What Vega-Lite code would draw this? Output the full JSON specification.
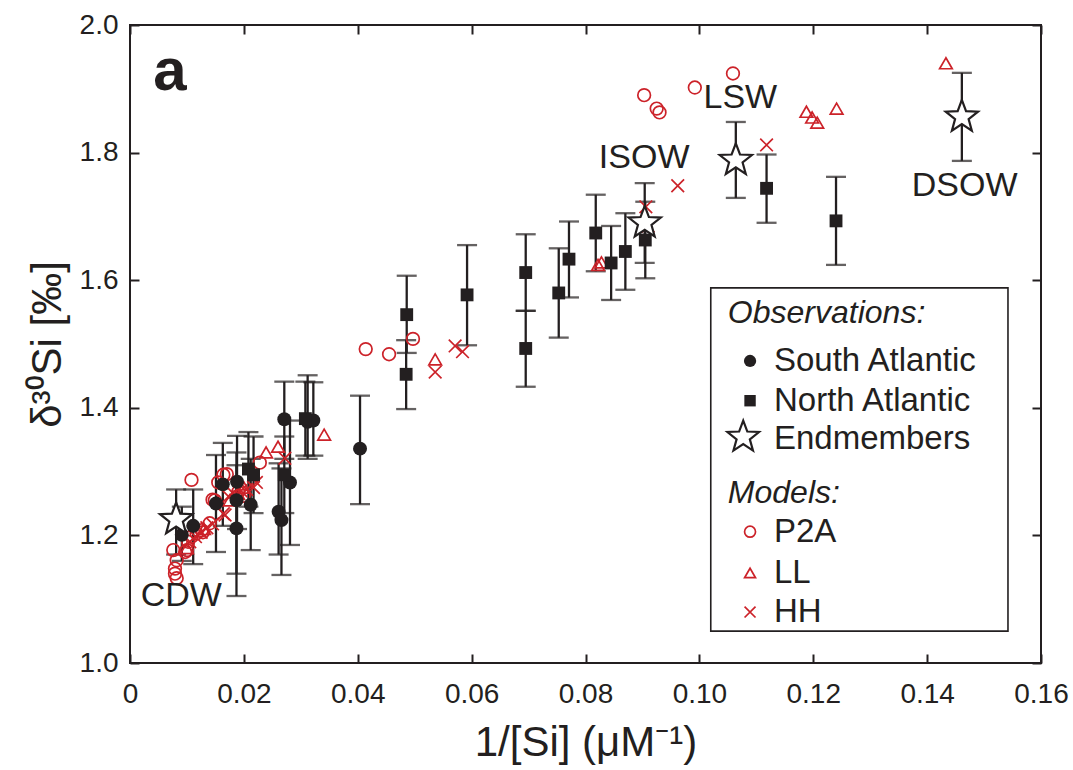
{
  "$schema": "https://vega.github.io/schema/vega-lite/v6.json",
  "width": 911,
  "height": 638,
  "autosize": {"type": "none"},
  "padding": {"left": 130, "top": 25, "right": 32, "bottom": 107},
  "background": "white",
  "config": {
    "view": {"stroke": "#231f20", "strokeWidth": 2},
    "font": "Liberation Sans",
    "axis": {
      "domain": false, "grid": false, "ticks": true,
      "tickColor": "#231f20", "tickWidth": 2, "tickSize": -9,
      "labelFont": "Liberation Sans", "labelFontSize": 28, "labelColor": "#231f20",
      "labelFlush": false, "labelOverlap": false, "labelBound": false,
      "titleFont": "Liberation Sans", "titleFontWeight": "normal", "titleColor": "#231f20", "titleFontSize": 42
    }
  },
  "datasets": {
    "obs": [
      {"g": "SA", "x": 0.0091, "y": 1.201, "lo": 1.16, "hi": 1.245},
      {"g": "SA", "x": 0.0111, "y": 1.215, "lo": 1.155, "hi": 1.272},
      {"g": "SA", "x": 0.0151, "y": 1.250, "lo": 1.174, "hi": 1.326},
      {"g": "SA", "x": 0.0163, "y": 1.280, "lo": 1.215, "hi": 1.345},
      {"g": "SA", "x": 0.0188, "y": 1.284, "lo": 1.21, "hi": 1.356},
      {"g": "SA", "x": 0.0187, "y": 1.255, "lo": 1.14, "hi": 1.33},
      {"g": "SA", "x": 0.0187, "y": 1.211, "lo": 1.105, "hi": 1.31},
      {"g": "SA", "x": 0.0212, "y": 1.248, "lo": 1.177, "hi": 1.32},
      {"g": "SA", "x": 0.0261, "y": 1.237, "lo": 1.17, "hi": 1.313},
      {"g": "SA", "x": 0.0266, "y": 1.224, "lo": 1.138, "hi": 1.305},
      {"g": "SA", "x": 0.0271, "y": 1.382, "lo": 1.32, "hi": 1.441},
      {"g": "SA", "x": 0.0281, "y": 1.283, "lo": 1.185, "hi": 1.38},
      {"g": "SA", "x": 0.0312, "y": 1.378, "lo": 1.32, "hi": 1.451},
      {"g": "SA", "x": 0.0322, "y": 1.380, "lo": 1.325, "hi": 1.44},
      {"g": "SA", "x": 0.0404, "y": 1.336, "lo": 1.249, "hi": 1.419},
      {"g": "NA", "x": 0.0208, "y": 1.304, "lo": 1.245, "hi": 1.362},
      {"g": "NA", "x": 0.0217, "y": 1.295, "lo": 1.235, "hi": 1.355},
      {"g": "NA", "x": 0.0271, "y": 1.295, "lo": 1.235, "hi": 1.355},
      {"g": "NA", "x": 0.0308, "y": 1.383, "lo": 1.325, "hi": 1.441},
      {"g": "NA", "x": 0.0486, "y": 1.546, "lo": 1.486, "hi": 1.607},
      {"g": "NA", "x": 0.0485, "y": 1.4525, "lo": 1.398, "hi": 1.506},
      {"g": "NA", "x": 0.0592, "y": 1.577, "lo": 1.498, "hi": 1.655},
      {"g": "NA", "x": 0.0695, "y": 1.612, "lo": 1.552, "hi": 1.672},
      {"g": "NA", "x": 0.0695, "y": 1.493, "lo": 1.433, "hi": 1.552},
      {"g": "NA", "x": 0.0753, "y": 1.580, "lo": 1.510, "hi": 1.650},
      {"g": "NA", "x": 0.0771, "y": 1.633, "lo": 1.573, "hi": 1.692},
      {"g": "NA", "x": 0.0818, "y": 1.674, "lo": 1.614, "hi": 1.734},
      {"g": "NA", "x": 0.0845, "y": 1.627, "lo": 1.569, "hi": 1.685},
      {"g": "NA", "x": 0.0870, "y": 1.645, "lo": 1.585, "hi": 1.705},
      {"g": "NA", "x": 0.0905, "y": 1.663, "lo": 1.603, "hi": 1.723},
      {"g": "NA", "x": 0.1118, "y": 1.744, "lo": 1.690, "hi": 1.797},
      {"g": "NA", "x": 0.1240, "y": 1.693, "lo": 1.624, "hi": 1.762},
      {"g": "EM", "x": 0.0081, "y": 1.225, "lo": 1.17, "hi": 1.272},
      {"g": "EM", "x": 0.0904, "y": 1.690, "lo": 1.627, "hi": 1.752},
      {"g": "EM", "x": 0.1064, "y": 1.788, "lo": 1.729, "hi": 1.848},
      {"g": "EM", "x": 0.1461, "y": 1.856, "lo": 1.787, "hi": 1.925}
    ],
    "mod": [
      {"g": "P2A", "x": 0.0903, "y": 1.890},
      {"g": "P2A", "x": 0.0925, "y": 1.869},
      {"g": "P2A", "x": 0.0930, "y": 1.863},
      {"g": "P2A", "x": 0.0992, "y": 1.902},
      {"g": "P2A", "x": 0.1059, "y": 1.924},
      {"g": "P2A", "x": 0.0414, "y": 1.492},
      {"g": "P2A", "x": 0.0455, "y": 1.484},
      {"g": "P2A", "x": 0.0497, "y": 1.508},
      {"g": "P2A", "x": 0.0108, "y": 1.287},
      {"g": "P2A", "x": 0.0155, "y": 1.283},
      {"g": "P2A", "x": 0.0145, "y": 1.256},
      {"g": "P2A", "x": 0.0164, "y": 1.295},
      {"g": "P2A", "x": 0.0170, "y": 1.296},
      {"g": "P2A", "x": 0.0228, "y": 1.314},
      {"g": "P2A", "x": 0.0140, "y": 1.219},
      {"g": "P2A", "x": 0.0126, "y": 1.208},
      {"g": "P2A", "x": 0.0076, "y": 1.177},
      {"g": "P2A", "x": 0.0082, "y": 1.161},
      {"g": "P2A", "x": 0.0079, "y": 1.148},
      {"g": "P2A", "x": 0.0079, "y": 1.140},
      {"g": "P2A", "x": 0.0082, "y": 1.133},
      {"g": "P2A", "x": 0.0097, "y": 1.174},
      {"g": "P2A", "x": 0.0102, "y": 1.190},
      {"g": "P2A", "x": 0.0108, "y": 1.198},
      {"g": "P2A", "x": 0.0117, "y": 1.203},
      {"g": "P2A", "x": 0.0100, "y": 1.177},
      {"g": "P2A", "x": 0.0128, "y": 1.205},
      {"g": "P2A", "x": 0.0149, "y": 1.255},
      {"g": "P2A", "x": 0.0190, "y": 1.268},
      {"g": "P2A", "x": 0.0200, "y": 1.262},
      {"g": "LL", "x": 0.1433, "y": 1.940},
      {"g": "LL", "x": 0.1241, "y": 1.869},
      {"g": "LL", "x": 0.1188, "y": 1.864},
      {"g": "LL", "x": 0.1198, "y": 1.855},
      {"g": "LL", "x": 0.1207, "y": 1.847},
      {"g": "LL", "x": 0.0822, "y": 1.624},
      {"g": "LL", "x": 0.0828, "y": 1.628},
      {"g": "LL", "x": 0.0536, "y": 1.476},
      {"g": "LL", "x": 0.0341, "y": 1.358},
      {"g": "LL", "x": 0.0260, "y": 1.339},
      {"g": "LL", "x": 0.0239, "y": 1.330},
      {"g": "LL", "x": 0.0200, "y": 1.275},
      {"g": "LL", "x": 0.0190, "y": 1.265},
      {"g": "LL", "x": 0.0175, "y": 1.255},
      {"g": "LL", "x": 0.0130, "y": 1.210},
      {"g": "LL", "x": 0.0100, "y": 1.180},
      {"g": "HH", "x": 0.1118, "y": 1.812},
      {"g": "HH", "x": 0.0962, "y": 1.748},
      {"g": "HH", "x": 0.0906, "y": 1.715},
      {"g": "HH", "x": 0.0910, "y": 1.685},
      {"g": "HH", "x": 0.0571, "y": 1.497},
      {"g": "HH", "x": 0.0584, "y": 1.488},
      {"g": "HH", "x": 0.0536, "y": 1.456},
      {"g": "HH", "x": 0.0272, "y": 1.321},
      {"g": "HH", "x": 0.0222, "y": 1.283},
      {"g": "HH", "x": 0.0217, "y": 1.275},
      {"g": "HH", "x": 0.0181, "y": 1.266},
      {"g": "HH", "x": 0.0173, "y": 1.261},
      {"g": "HH", "x": 0.0164, "y": 1.234},
      {"g": "HH", "x": 0.0167, "y": 1.232},
      {"g": "HH", "x": 0.0125, "y": 1.205},
      {"g": "HH", "x": 0.0135, "y": 1.212},
      {"g": "HH", "x": 0.0145, "y": 1.218},
      {"g": "HH", "x": 0.0105, "y": 1.190},
      {"g": "HH", "x": 0.0115, "y": 1.198},
      {"g": "HH", "x": 0.0195, "y": 1.270},
      {"g": "HH", "x": 0.0205, "y": 1.272}
    ],
    "ann": [
      {"t": "CDW", "x": 0.0090, "y": 1.105},
      {"t": "ISOW", "x": 0.0903, "y": 1.792},
      {"t": "LSW", "x": 0.1072, "y": 1.886},
      {"t": "DSOW", "x": 0.1466, "y": 1.748}
    ],
    "panel": [
      {"t": "a", "x": 0.0070, "y": 1.898}
    ],
    "box": [
      {"x": 0.1020, "x2": 0.1542, "y": 1.588, "y2": 1.050}
    ],
    "legtext": [
      {"t": "Observations:", "x": 0.1050, "y": 1.5486, "it": 1},
      {"t": "South Atlantic", "x": 0.1131, "y": 1.4734, "it": 0},
      {"t": "North Atlantic", "x": 0.1131, "y": 1.4111, "it": 0},
      {"t": "Endmembers", "x": 0.1131, "y": 1.3511, "it": 0},
      {"t": "Models:", "x": 0.1050, "y": 1.2665, "it": 1},
      {"t": "P2A", "x": 0.1131, "y": 1.2058, "it": 0},
      {"t": "LL", "x": 0.1131, "y": 1.1411, "it": 0},
      {"t": "HH", "x": 0.1131, "y": 1.0799, "it": 0}
    ],
    "legsym": [
      {"g": "SA", "x": 0.1089, "y": 1.4734},
      {"g": "NA", "x": 0.1089, "y": 1.4111},
      {"g": "EM", "x": 0.1077, "y": 1.3540},
      {"g": "P2A", "x": 0.1089, "y": 1.2058},
      {"g": "LL", "x": 0.1089, "y": 1.1411},
      {"g": "HH", "x": 0.1089, "y": 1.0799}
    ]
  },
  "layer": [
    {
      "data": {"name": "obs"},
      "mark": {"type": "errorbar", "color": "#231f20", "thickness": 2.3, "ticks": {"size": 20}},
      "encoding": {
        "x": {"field": "x", "type": "quantitative", "scale": {"domain": [0, 0.16], "nice": false, "zero": false}, "axis": null},
        "y": {"field": "lo", "type": "quantitative", "scale": {"domain": [1, 2], "nice": false, "zero": false}, "axis": null},
        "y2": {"field": "hi"}
      }
    },
    {
      "data": {"name": "mod"},
      "mark": {"type": "point", "filled": false, "stroke": "#cc2229", "strokeWidth": 1.7, "opacity": 1},
      "encoding": {
        "x": {"field": "x", "type": "quantitative", "scale": {"domain": [0, 0.16], "nice": false, "zero": false},
          "axis": {"orient": "bottom", "title": "1/[Si] (μM⁻¹)", "values": [0, 0.02, 0.04, 0.06, 0.08, 0.1, 0.12, 0.14, 0.16],
            "labelExpr": "datum.value == 0 ? '0' : format(datum.value, '.2f')", "labelPadding": 26, "titlePadding": 14}},
        "y": {"field": "y", "type": "quantitative", "scale": {"domain": [1, 2], "nice": false, "zero": false},
          "axis": {"orient": "left", "title": "δ³⁰Si [‰]", "values": [1, 1.2, 1.4, 1.6, 1.8, 2], "format": ".1f", "labelPadding": 21, "titlePadding": 10}},
        "shape": {"field": "g", "type": "nominal", "legend": null,
          "scale": {"domain": ["P2A", "LL", "HH"], "range": ["circle", "triangle-up", "M-1,-1L1,1M-1,1L1,-1"]}},
        "size": {"value": 160}
      }
    },
    {
      "data": {"name": "obs"},
      "transform": [{"filter": "datum.g == 'SA'"}],
      "mark": {"type": "point", "shape": "circle", "filled": true, "color": "#231f20", "size": 195, "opacity": 1},
      "encoding": {
        "x": {"field": "x", "type": "quantitative", "scale": {"domain": [0, 0.16], "nice": false, "zero": false},
          "axis": {"orient": "top", "labels": false, "title": null, "values": [0, 0.02, 0.04, 0.06, 0.08, 0.1, 0.12, 0.14, 0.16]}},
        "y": {"field": "y", "type": "quantitative", "scale": {"domain": [1, 2], "nice": false, "zero": false},
          "axis": {"orient": "right", "labels": false, "title": null, "values": [1, 1.2, 1.4, 1.6, 1.8, 2]}}
      }
    },
    {
      "data": {"name": "obs"},
      "transform": [{"filter": "datum.g == 'NA'"}],
      "mark": {"type": "point", "shape": "square", "filled": true, "color": "#231f20", "size": 165, "opacity": 1},
      "encoding": {
        "x": {"field": "x", "type": "quantitative", "scale": {"domain": [0, 0.16], "nice": false, "zero": false}, "axis": null},
        "y": {"field": "y", "type": "quantitative", "scale": {"domain": [1, 2], "nice": false, "zero": false}, "axis": null}
      }
    },
    {
      "data": {"name": "obs"},
      "transform": [{"filter": "datum.g == 'EM'"}],
      "mark": {"type": "point", "shape": "M0,-1L0.2469,-0.3398L0.9511,-0.309L0.3995,0.1298L0.5878,0.809L0,0.42L-0.5878,0.809L-0.3995,0.1298L-0.9511,-0.309L-0.2469,-0.3398Z",
        "filled": true, "fill": "white", "stroke": "#231f20", "strokeWidth": 2.2, "size": 1150, "opacity": 1},
      "encoding": {
        "x": {"field": "x", "type": "quantitative", "scale": {"domain": [0, 0.16], "nice": false, "zero": false}, "axis": null},
        "y": {"field": "y", "type": "quantitative", "scale": {"domain": [1, 2], "nice": false, "zero": false}, "axis": null}
      }
    },
    {
      "data": {"name": "ann"},
      "mark": {"type": "text", "font": "Liberation Sans", "fontSize": 34, "color": "#231f20", "align": "center", "baseline": "middle"},
      "encoding": {
        "x": {"field": "x", "type": "quantitative", "scale": {"domain": [0, 0.16], "nice": false, "zero": false}, "axis": null},
        "y": {"field": "y", "type": "quantitative", "scale": {"domain": [1, 2], "nice": false, "zero": false}, "axis": null},
        "text": {"field": "t"}
      }
    },
    {
      "data": {"name": "panel"},
      "mark": {"type": "text", "font": "Liberation Sans", "fontSize": 60, "fontWeight": "bold", "color": "#231f20", "align": "center", "baseline": "alphabetic"},
      "encoding": {
        "x": {"field": "x", "type": "quantitative", "scale": {"domain": [0, 0.16], "nice": false, "zero": false}, "axis": null},
        "y": {"field": "y", "type": "quantitative", "scale": {"domain": [1, 2], "nice": false, "zero": false}, "axis": null},
        "text": {"field": "t"}
      }
    },
    {
      "data": {"name": "box"},
      "mark": {"type": "rect", "fill": "white", "stroke": "#231f20", "strokeWidth": 1.6},
      "encoding": {
        "x": {"field": "x", "type": "quantitative", "scale": {"domain": [0, 0.16], "nice": false, "zero": false}, "axis": null},
        "x2": {"field": "x2"},
        "y": {"field": "y", "type": "quantitative", "scale": {"domain": [1, 2], "nice": false, "zero": false}, "axis": null},
        "y2": {"field": "y2"}
      }
    },
    {
      "data": {"name": "legtext"},
      "transform": [{"filter": "datum.it == 1"}],
      "mark": {"type": "text", "font": "Liberation Sans", "fontSize": 32, "fontStyle": "italic", "color": "#231f20", "align": "left", "baseline": "middle"},
      "encoding": {
        "x": {"field": "x", "type": "quantitative", "scale": {"domain": [0, 0.16], "nice": false, "zero": false}, "axis": null},
        "y": {"field": "y", "type": "quantitative", "scale": {"domain": [1, 2], "nice": false, "zero": false}, "axis": null},
        "text": {"field": "t"}
      }
    },
    {
      "data": {"name": "legtext"},
      "transform": [{"filter": "datum.it == 0"}],
      "mark": {"type": "text", "font": "Liberation Sans", "fontSize": 33, "color": "#231f20", "align": "left", "baseline": "middle"},
      "encoding": {
        "x": {"field": "x", "type": "quantitative", "scale": {"domain": [0, 0.16], "nice": false, "zero": false}, "axis": null},
        "y": {"field": "y", "type": "quantitative", "scale": {"domain": [1, 2], "nice": false, "zero": false}, "axis": null},
        "text": {"field": "t"}
      }
    },
    {
      "data": {"name": "legsym"},
      "transform": [{"filter": "datum.g == 'SA'"}],
      "mark": {"type": "point", "shape": "circle", "filled": true, "color": "#231f20", "size": 150, "opacity": 1},
      "encoding": {
        "x": {"field": "x", "type": "quantitative", "scale": {"domain": [0, 0.16], "nice": false, "zero": false}, "axis": null},
        "y": {"field": "y", "type": "quantitative", "scale": {"domain": [1, 2], "nice": false, "zero": false}, "axis": null}
      }
    },
    {
      "data": {"name": "legsym"},
      "transform": [{"filter": "datum.g == 'NA'"}],
      "mark": {"type": "point", "shape": "square", "filled": true, "color": "#231f20", "size": 130, "opacity": 1},
      "encoding": {
        "x": {"field": "x", "type": "quantitative", "scale": {"domain": [0, 0.16], "nice": false, "zero": false}, "axis": null},
        "y": {"field": "y", "type": "quantitative", "scale": {"domain": [1, 2], "nice": false, "zero": false}, "axis": null}
      }
    },
    {
      "data": {"name": "legsym"},
      "transform": [{"filter": "datum.g == 'EM'"}],
      "mark": {"type": "point", "shape": "M0,-1L0.2469,-0.3398L0.9511,-0.309L0.3995,0.1298L0.5878,0.809L0,0.42L-0.5878,0.809L-0.3995,0.1298L-0.9511,-0.309L-0.2469,-0.3398Z",
        "filled": true, "fill": "white", "stroke": "#231f20", "strokeWidth": 2.2, "size": 1100, "opacity": 1},
      "encoding": {
        "x": {"field": "x", "type": "quantitative", "scale": {"domain": [0, 0.16], "nice": false, "zero": false}, "axis": null},
        "y": {"field": "y", "type": "quantitative", "scale": {"domain": [1, 2], "nice": false, "zero": false}, "axis": null}
      }
    },
    {
      "data": {"name": "legsym"},
      "transform": [{"filter": "datum.g == 'P2A' || datum.g == 'LL' || datum.g == 'HH'"}],
      "mark": {"type": "point", "filled": false, "stroke": "#cc2229", "strokeWidth": 1.7, "opacity": 1},
      "encoding": {
        "x": {"field": "x", "type": "quantitative", "scale": {"domain": [0, 0.16], "nice": false, "zero": false}, "axis": null},
        "y": {"field": "y", "type": "quantitative", "scale": {"domain": [1, 2], "nice": false, "zero": false}, "axis": null},
        "shape": {"field": "g", "type": "nominal", "legend": null,
          "scale": {"domain": ["P2A", "LL", "HH"], "range": ["circle", "triangle-up", "M-1,-1L1,1M-1,1L1,-1"]}},
        "size": {"value": 120}
      }
    }
  ],
  "resolve": {"axis": {"x": "independent", "y": "independent"}}
}
